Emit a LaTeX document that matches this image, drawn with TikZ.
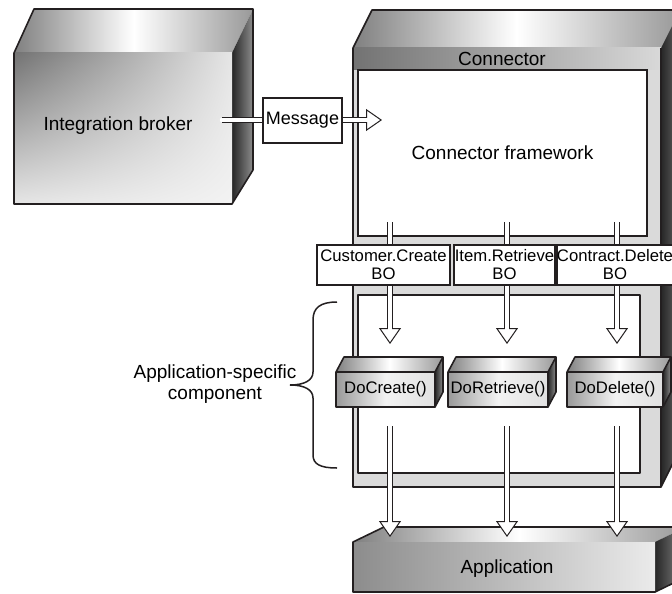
\documentclass[tikz,border=0pt]{standalone}
\usepackage{fontspec}
\setmainfont{Liberation Sans}
\usetikzlibrary{arrows.meta,shadings}

\definecolor{ink}{HTML}{231F20}
\definecolor{framegray}{HTML}{DADADA}

\tikzset{
  edge/.style={draw=ink,line width=1.6pt,line join=round},
  topface/.style={left color=black!50,right color=black!40,middle color=white},
  sideface/.style={left color=black!85,right color=black!45},
  frontface/.style={left color=black!45,right color=black!8},
  opface/.style={left color=black!40,right color=black!12,middle color=black!5},
  bigtext/.style={font=\fontsize{19}{21}\selectfont},
  smalltext/.style={font=\fontsize{16.7}{18}\selectfont},
  box/.style={draw=ink,line width=1.6pt,fill=white,inner sep=0pt},
  pipe/.style={draw=white,line width=4.4pt,line cap=round,shorten >=15pt,
    preaction={draw=ink,line width=6.4pt},
    postaction={draw=white,line width=1pt,shorten >=0pt,
      -{Triangle[open,color=ink,fill=white,length=16pt,width=22pt,line width=1pt]}},
    postaction={draw=white,line width=4.4pt,shorten >=13pt}},
}

% small 3D operation box: name, left x, right x, text
\newcommand*{\opbox}[4]{%
  \shade[topface] (#2,372) -- (#2+8,357) -- (#3+8,357) -- (#3,372) -- cycle;
  \shade[sideface] (#3,372) -- (#3+8,357) -- (#3+8,392) -- (#3,407) -- cycle;
  \shade[opface] (#2,372) rectangle (#3,407);
  \draw[edge] (#2,407) -- (#2,372) -- (#2+8,357) -- (#3+8,357) --
    (#3+8,392) -- (#3,407) -- cycle;
  \draw[edge] (#2,372) -- (#3,372) -- (#3+8,357) (#3,372) -- (#3,407);
  \node[smalltext] (#1) at ({(#2+#3)/2},389.5) {#4};
}

\begin{document}
\begin{tikzpicture}[x=1pt,y=-1pt]
\useasboundingbox (0,0) rectangle (672,594);
\clip (0,0) rectangle (672,594);

% Integration broker
\coordinate (IB1) at (14,53);
\coordinate (IB2) at (232,53);
\coordinate (IB3) at (232,204);
\coordinate (IB4) at (14,204);
\coordinate (IB5) at (34,9);
\coordinate (IB6) at (253,9);
\coordinate (IB7) at (253,170);

\shade[topface] (IB1) -- (IB5) -- (IB6) -- (IB2) -- cycle;
\shade[sideface] (IB2) -- (IB6) -- (IB7) -- (IB3) -- cycle;
\shade[upper left=black!55,upper right=black!10,
  lower left=black!10,lower right=black!5] (IB1) rectangle (IB3);
\draw[edge] (IB4) -- (IB1) -- (IB5) -- (IB6) -- (IB7) -- (IB3) -- cycle;
\node[bigtext] (broker) at (118,126) {Integration broker};

% Connector
\coordinate (CN1) at (353,48);
\coordinate (CN2) at (661,48);
\coordinate (CN3) at (661,487);
\coordinate (CN4) at (353,487);
\coordinate (CN5) at (372,10);
\coordinate (CN6) at (680,10);
\coordinate (CN7) at (680,449);

\shade[topface] (CN1) -- (CN5) -- (CN6) -- (CN2) -- cycle;
\shade[left color=black!85,right color=black!60]
  (CN2) -- (CN6) -- (CN7) -- (CN3) -- cycle;
\fill[framegray] (CN1) rectangle (CN3);
\shade[left color=black!55,right color=black!15] (CN1) rectangle (661,70);
\draw[edge] (CN4) -- (CN1) -- (CN5) -- (CN6) -- (CN7) -- (CN3) -- cycle;
\draw[edge] (CN2) -- (CN3);
\node[bigtext] (conn) at (502,59) {Connector};
\node[box,bigtext,minimum width=289,minimum height=166] (fw)
  at (502.5,153) {Connector framework};
\draw[edge,fill=white] (358,295) rectangle (640,473);

% Application
\coordinate (AP1) at (353,542);
\coordinate (AP2) at (655,542);
\coordinate (AP3) at (655,592);
\coordinate (AP4) at (353,592);
\coordinate (AP5) at (384,527);
\coordinate (AP6) at (686,527);
\coordinate (AP7) at (686,577);

\shade[topface] (AP1) -- (AP5) -- (AP6) -- (AP2) -- cycle;
\shade[sideface] (AP2) -- (AP6) -- (AP7) -- (AP3) -- cycle;
\shade[frontface] (AP1) rectangle (AP3);
\draw[edge] (AP4) -- (AP1) -- (AP5) -- (AP6) -- (AP7) -- (AP3) -- cycle;
\node[bigtext] (app) at (507,569) {Application};

% Message
\coordinate (msgA) at (222,120);
\coordinate (msgB) at (382,120);
\draw[pipe] (msgA) -- (msgB);
\node[box,font=\fontsize{18}{20}\selectfont,minimum width=79,minimum height=45]
  (msg) at (302.5,120.5) {Message};

% Business objects
\coordinate (upA1) at (390,222);
\coordinate (upB1) at (390,344);
\coordinate (upA2) at (507,222);
\coordinate (upB2) at (507,344);
\coordinate (upA3) at (617,222);
\coordinate (upB3) at (617,344);
\draw[pipe] (upA1) -- (upB1);
\draw[pipe] (upA2) -- (upB2);
\draw[pipe] (upA3) -- (upB3);

\node[box,smalltext,align=center,minimum width=133,minimum height=40]
  (bocre) at (383.5,265) {Customer.Create\\BO};
\node[box,smalltext,align=center,minimum width=101,minimum height=40]
  (boret) at (504.5,265) {Item.Retrieve\\BO};
\node[box,smalltext,align=center,minimum width=114,minimum height=40]
  (bodel) at (615,265) {Contract.Delete\\BO};

% Application-specific component
\opbox{docre}{336}{435}{DoCreate()}
\opbox{doret}{448}{548}{DoRetrieve()}
\opbox{dodel}{567}{663}{DoDelete()}

\coordinate (dnA1) at (390,426);
\coordinate (dnB1) at (390,537);
\coordinate (dnA2) at (507,426);
\coordinate (dnB2) at (507,537);
\coordinate (dnA3) at (617,426);
\coordinate (dnB3) at (617,537);
\draw[pipe] (dnA1) -- (dnB1);
\draw[pipe] (dnA2) -- (dnB2);
\draw[pipe] (dnA3) -- (dnB3);

% Brace
\draw[ink,line width=1.5pt] (337,302) .. controls (320,302) and (313,308) .. (313,320)
  -- (313,372) .. controls (313,380) and (305,385) .. (290,385)
  .. controls (305,385) and (313,390) .. (313,398)
  -- (313,455) .. controls (313,464) and (320,468) .. (337,468);
\node[bigtext,align=center] (asc) at (215,384)
  {Application-specific\\component};
\end{tikzpicture}
\end{document}
